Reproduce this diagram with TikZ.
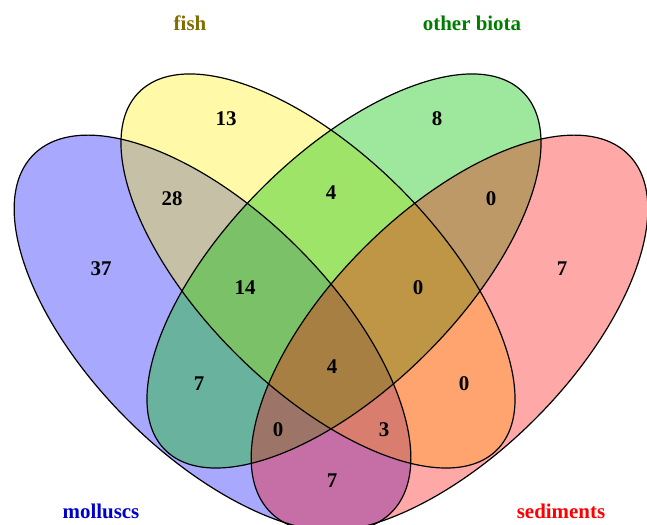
\documentclass[tikz,border=0pt]{standalone}
\usepackage{fontspec}
\setmainfont{Liberation Serif}
\definecolor{molluscfill}{RGB}{0,0,255}
\definecolor{fishfill}{RGB}{255,238,0}
\definecolor{biotafill}{RGB}{0,195,0}
\definecolor{sedimentfill}{RGB}{255,0,0}
\definecolor{fishtext}{RGB}{128,110,0}
\definecolor{biotatext}{RGB}{0,125,0}
\definecolor{mollusctext}{RGB}{0,0,205}
\tikzset{
  setfill/.style={fill=#1, fill opacity=0.34},
  setline/.style={draw=black, line width=1.2bp},
  count/.style={font=\fontsize{21}{25}\selectfont\bfseries},
  setname/.style={font=\fontsize{21}{25}\selectfont\bfseries, text=#1, anchor=base, inner sep=0pt}
}

\begin{document}
\begin{tikzpicture}[x=1bp,y=1bp]
\useasboundingbox (0,0) rectangle (647,525);
\begin{scope}
\clip (0,0) rectangle (647,525);
\coordinate (mc) at (212.5,191.5);
\coordinate (fc) at (318,254);
\coordinate (bc) at (344,254);
\coordinate (sc) at (449.5,191.5);

\fill[setfill=molluscfill, rotate around={135:(mc)}] (mc) ellipse [x radius=253bp, y radius=121bp];
\fill[setfill=fishfill, rotate around={135:(fc)}] (fc) ellipse [x radius=253bp, y radius=116.6bp];
\fill[setfill=biotafill, fill opacity=0.38, rotate around={45:(bc)}] (bc) ellipse [x radius=253bp, y radius=116.6bp];
\fill[setfill=sedimentfill, rotate around={45:(sc)}] (sc) ellipse [x radius=253bp, y radius=121bp];

\draw[setline, rotate around={135:(mc)}] (mc) ellipse [x radius=253bp, y radius=121bp];
\draw[setline, rotate around={135:(fc)}] (fc) ellipse [x radius=253bp, y radius=116.6bp];
\draw[setline, rotate around={45:(bc)}] (bc) ellipse [x radius=253bp, y radius=116.6bp];
\draw[setline, rotate around={45:(sc)}] (sc) ellipse [x radius=253bp, y radius=121bp];
\end{scope}

\node[count] (f) at (226,406) {13};
\node[count] (b) at (437,406) {8};
\node[count] (mf) at (172,326) {28};
\node[count] (fb) at (331,332) {4};
\node[count] (bs) at (491,326) {0};
\node[count] (m) at (101,256) {37};
\node[count] (s) at (562,256) {7};
\node[count] (mfb) at (245,237) {14};
\node[count] (fbs) at (418,237) {0};
\node[count] (mb) at (199,141) {7};
\node[count] (mfbs) at (332,158) {4};
\node[count] (fs) at (464,141) {0};
\node[count] (mbs) at (278,95) {0};
\node[count] (mfs) at (384,95) {3};
\node[count] (ms) at (332,44) {7};

\node[setname=fishtext] (fishname) at (190,494) {fish};
\node[setname=biotatext] (biotaname) at (472,494) {other biota};
\node[setname=mollusctext] (molluscname) at (101,6) {molluscs};
\node[setname=red] (sedimentname) at (561,6) {sediments};
\end{tikzpicture}
\end{document}
